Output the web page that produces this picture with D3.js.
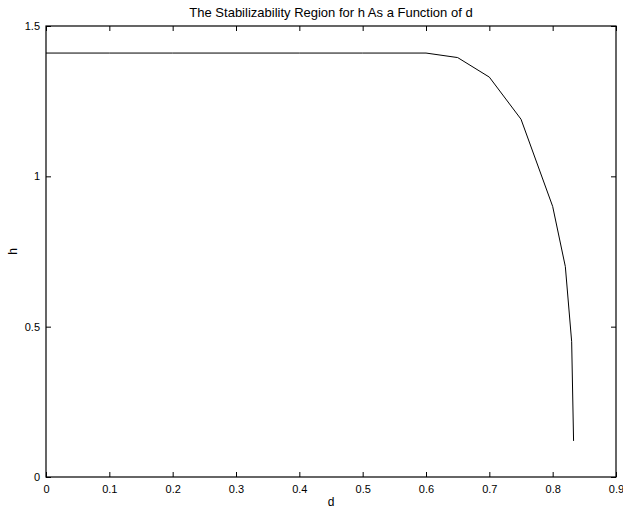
<!DOCTYPE html>
<html>
<head>
<meta charset="utf-8">
<script src="https://cdn.jsdelivr.net/npm/d3@7"></script>
<style>
  body { margin: 0; background: #fff; }
  text { font-family: "Liberation Sans", Arial, sans-serif; font-size: 11px; fill: #000; }
</style>
</head>
<body>
<svg width="623" height="509"></svg>
<script>
// curve
var dValues = [0, 0.1, 0.2, 0.3, 0.4, 0.5, 0.6, 0.65, 0.7, 0.75, 0.8, 0.82, 0.83, 0.833];
var hValues = [1.41, 1.41, 1.41, 1.41, 1.41, 1.41, 1.41, 1.395, 1.33, 1.19, 0.9, 0.7, 0.45, 0.12];
var xTicks = [0, 0.1, 0.2, 0.3, 0.4, 0.5, 0.6, 0.7, 0.8, 0.9];
var yTicks = [0, 0.5, 1, 1.5];

// plot box
var boxLeft = 46, boxRight = 616, boxTop = 26, boxBottom = 477;

var svg = d3.select("svg");

var x = d3.scaleLinear().domain([0, 0.9]).range([boxLeft, boxRight]);
var y = d3.scaleLinear().domain([0, 1.5]).range([boxBottom, boxTop]);

var fmt = function(v) { return String(v); };

// inside ticks on all four sides
svg.append("g")
    .attr("transform", "translate(0," + boxBottom + ")")
    .call(d3.axisBottom(x).tickValues(xTicks).tickFormat(fmt).tickSizeInner(-5).tickSizeOuter(0).tickPadding(8))
    .call(function(g) { g.select(".domain").remove(); });

svg.append("g")
    .attr("transform", "translate(0," + boxTop + ")")
    .call(d3.axisTop(x).tickValues(xTicks).tickFormat("").tickSizeInner(-5).tickSizeOuter(0))
    .call(function(g) { g.select(".domain").remove(); });

svg.append("g")
    .attr("transform", "translate(" + boxLeft + ",0)")
    .call(d3.axisLeft(y).tickValues(yTicks).tickFormat(fmt).tickSizeInner(-5).tickSizeOuter(0).tickPadding(6))
    .call(function(g) { g.select(".domain").remove(); });

svg.append("g")
    .attr("transform", "translate(" + boxRight + ",0)")
    .call(d3.axisRight(y).tickValues(yTicks).tickFormat("").tickSizeInner(-5).tickSizeOuter(0))
    .call(function(g) { g.select(".domain").remove(); });

svg.selectAll(".tick text").style("font-size", "11px").style("font-family", "Liberation Sans, Arial, sans-serif");

svg.append("rect")
    .attr("x", boxLeft).attr("y", boxTop)
    .attr("width", boxRight - boxLeft).attr("height", boxBottom - boxTop)
    .attr("fill", "none").attr("stroke", "#000").attr("stroke-width", 1.2);

var pts = dValues.map(function(d, i) { return [d, hValues[i]]; });

svg.append("path")
    .datum(pts)
    .attr("fill", "none")
    .attr("stroke", "#000")
    .attr("stroke-width", 1)
    .attr("d", d3.line().x(function(p) { return x(p[0]); }).y(function(p) { return y(p[1]); }));

svg.append("text")
    .attr("x", (boxLeft + boxRight) / 2).attr("y", 17)
    .attr("text-anchor", "middle")
    .style("font-size", "13px")
    .text("The Stabilizability Region for h As a Function of d");

svg.append("text")
    .attr("x", (boxLeft + boxRight) / 2).attr("y", 506)
    .attr("text-anchor", "middle")
    .style("font-size", "12px")
    .text("d");

svg.append("text")
    .attr("transform", "translate(17," + ((boxTop + boxBottom) / 2) + ") rotate(-90)")
    .attr("text-anchor", "middle")
    .style("font-size", "12px")
    .text("h");
</script>
</body>
</html>
